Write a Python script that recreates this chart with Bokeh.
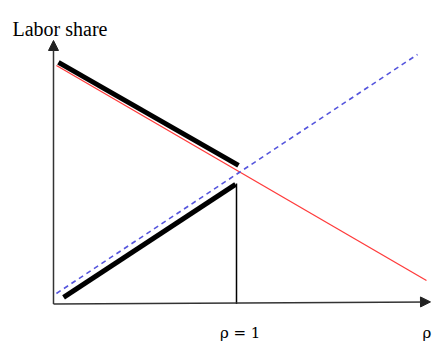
from bokeh.plotting import figure
from bokeh.models import Range1d, Arrow, NormalHead, Label
from bokeh.embed import file_html
from bokeh.resources import INLINE

# Conceptual diagram data: rho on x, labor share on y
rho_red = [0.016, 2.038]
share_red = [0.905, 0.089]

rho_upper = [0.027, 1.011]
share_upper = [0.917, 0.526]

rho_lower = [0.055, 0.995]
share_lower = [0.025, 0.454]

rho_blue = [0.016, 1.989]
share_blue = [0.040, 0.947]

rho_marker = [1.0, 1.0]
share_marker = [0.0, 0.457]

axis_x_end = [2.06, 0.008]
axis_y_end = [0.0, 1.0]

y_title = "Labor share"
x_title = "ρ"
marker_label = "ρ = 1"

p = figure(width=432, height=341, output_backend="svg", toolbar_location=None,
           x_range=Range1d(-0.2896, 2.071), y_range=Range1d(-0.1423, 1.1518),
           x_axis_location=None, y_axis_location=None, min_border=0,
           outline_line_color=None)
p.grid.visible = False
p.background_fill_color = "white"

# axes with arrows
p.add_layout(Arrow(end=NormalHead(size=10, fill_color="#222222", line_color="#222222"),
                   x_start=0, y_start=0, x_end=axis_y_end[0], y_end=axis_y_end[1],
                   line_color="#333333", line_width=1.5))
p.add_layout(Arrow(end=NormalHead(size=10, fill_color="#222222", line_color="#222222"),
                   x_start=0, y_start=0, x_end=axis_x_end[0], y_end=axis_x_end[1],
                   line_color="#333333", line_width=1.5))

p.line(rho_red, share_red, line_color="#ff3b3b", line_width=1.3)
p.line(rho_blue, share_blue, line_color="#5555dd", line_width=1.6, line_dash="5 4")
p.line(rho_upper, share_upper, line_color="black", line_width=5)
p.line(rho_lower, share_lower, line_color="black", line_width=5)
p.line(rho_marker, share_marker, line_color="black", line_width=1.5)

p.add_layout(Label(x=-0.224, y=1.042, text=y_title, text_font="Liberation Serif",
                   text_font_size="20px", text_color="black", text_baseline="alphabetic"))
p.add_layout(Label(x=1.02, y=-0.110, text=marker_label, text_font="DejaVu Serif",
                   text_font_size="15px", text_color="black", text_baseline="alphabetic",
                   text_align="center"))
p.add_layout(Label(x=2.04, y=-0.110, text=x_title, text_font="DejaVu Serif",
                   text_font_size="15px", text_color="black", text_baseline="alphabetic",
                   text_align="center"))

open("out.html", "w").write(file_html(p, INLINE))
